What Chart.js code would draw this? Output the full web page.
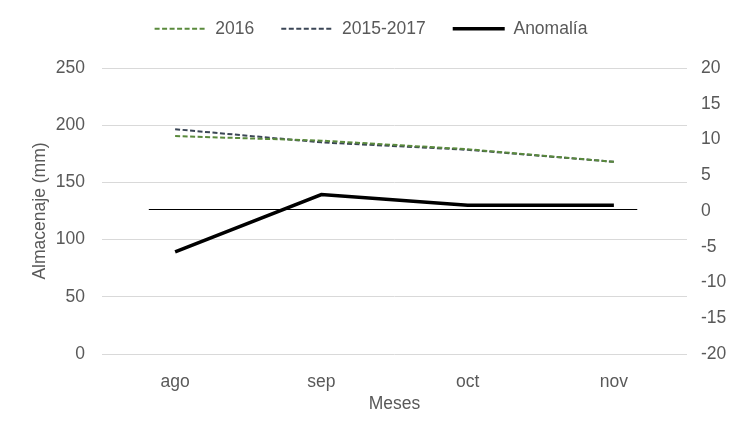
<!DOCTYPE html>
<html>
<head>
<meta charset="utf-8">
<script src="https://cdn.jsdelivr.net/npm/chart.js@4.4.0/dist/chart.umd.min.js"></script>
<style>
  html, body { margin: 0; padding: 0; background: #fff; }
</style>
</head>
<body>
<canvas id="chart" width="742" height="440"></canvas>
<script>
// Datos
const meses = ['ago', 'sep', 'oct', 'nov'];
const serie2016 = [190.5, 186.5, 179, 168];
const serie2015a2017 = [196.5, 185, 178.5, 168];
const anomalia = [-5.7, 2.3, 0.8, 0.8];
const ticksAlmacenaje = [0, 250, 50];   // min, max, paso
const ticksAnomalia = [-20, 20, 5];
const lineaCero = [-0.18, 3.16];         // desde / hasta, en indices de categoria

Chart.defaults.font.family = "'Liberation Sans', Arial, sans-serif";
Chart.defaults.font.size = 17.5;
Chart.defaults.color = '#595959';

// linea fina en el cero del eje derecho
const zeroLinePlugin = {
  id: 'zeroLine',
  beforeDatasetsDraw(chart) {
    const { ctx, scales } = chart;
    const y = Math.round(scales.y1.getPixelForValue(0)) - 1.5;
    ctx.save();
    ctx.strokeStyle = '#000';
    ctx.lineWidth = 1;
    ctx.beginPath();
    ctx.moveTo(scales.x.getPixelForValue(lineaCero[0]), y);
    ctx.lineTo(scales.x.getPixelForValue(lineaCero[1]), y);
    ctx.stroke();
    ctx.restore();
  }
};

// altura fija de la leyenda
const legendHeight = {
  id: 'legendHeight',
  beforeInit(chart) {
    const fit = chart.legend.fit;
    chart.legend.fit = function () {
      fit.bind(chart.legend)();
      this.height = 75;
    };
  }
};

new Chart(document.getElementById('chart'), {
  type: 'line',
  data: {
    labels: meses,
    datasets: [
      {
        label: '2016',
        data: serie2016,
        yAxisID: 'y',
        borderColor: '#5a8a3c',
        backgroundColor: 'transparent',
        borderWidth: 2,
        borderDash: [5, 2.5],
        pointRadius: 0,
        tension: 0
      },
      {
        label: '2015-2017',
        data: serie2015a2017,
        yAxisID: 'y',
        borderColor: '#3b4656',
        backgroundColor: 'transparent',
        borderWidth: 2,
        borderDash: [5, 2.5],
        pointRadius: 0,
        tension: 0
      },
      {
        label: 'Anomalía',
        data: anomalia,
        yAxisID: 'y1',
        borderColor: '#000',
        backgroundColor: 'transparent',
        borderWidth: 3.5,
        pointRadius: 0,
        tension: 0
      }
    ]
  },
  options: {
    responsive: false,
    animation: false,
    layout: { padding: { top: -7, left: 0, right: 0, bottom: 0 } },
    plugins: {
      legend: {
        position: 'top',
        labels: {
          usePointStyle: true,
          pointStyle: 'line',
          pointStyleWidth: 52,
          padding: 27,
          color: '#595959',
          generateLabels(chart) {
            const items = Chart.defaults.plugins.legend.labels.generateLabels(chart);
            return items.map((item, i) => {
              const ds = chart.data.datasets[i];
              return Object.assign(item, {
                lineDash: ds.borderDash || [],
                lineWidth: ds.borderWidth,
                strokeStyle: ds.borderColor,
                pointStyle: 'line'
              });
            });
          }
        }
      },
      tooltip: { enabled: false }
    },
    scales: {
      x: {
        offset: true,
        grid: { display: false },
        border: { display: false },
        ticks: { padding: 10 },
        title: { display: true, text: 'Meses', padding: { top: 0, bottom: 25.5 } },
        afterFit(s) { s.height = 86; }
      },
      y: {
        position: 'left',
        min: ticksAlmacenaje[0],
        max: ticksAlmacenaje[1],
        ticks: { stepSize: ticksAlmacenaje[2], padding: 17 },
        grid: { color: '#d9d9d9', drawTicks: false },
        border: { display: false },
        title: { display: true, text: 'Almacenaje (mm)', padding: { top: 29.5, bottom: 0 } },
        afterFit(s) { s.width = 102; }
      },
      y1: {
        position: 'right',
        min: ticksAnomalia[0],
        max: ticksAnomalia[1],
        ticks: { stepSize: ticksAnomalia[2], padding: 14 },
        grid: { display: false, drawTicks: false },
        border: { display: false },
        afterFit(s) { s.width = 55; }
      }
    }
  },
  plugins: [zeroLinePlugin, legendHeight]
});
</script>
</body>
</html>
